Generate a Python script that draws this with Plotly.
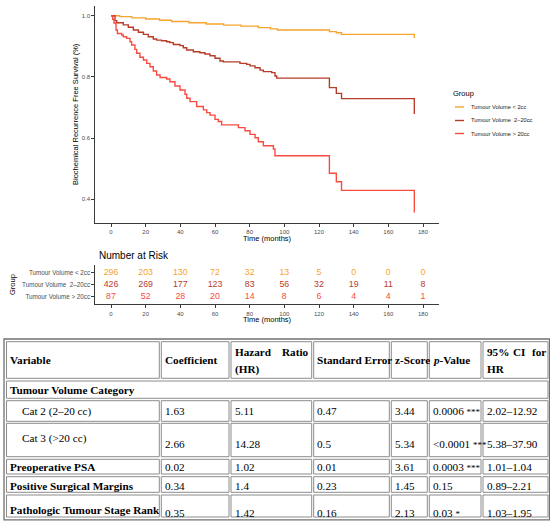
import plotly.graph_objects as go

W, H = 550, 532

# ---- Kaplan-Meier data (months, survival) ----
groups = ["Tumour Volume < 2cc", "Tumour Volume  2\u201320cc", "Tumour Volume > 20cc"]
colors = ["#F5A42C", "#B73C28", "#F94C40"]

t_small = [0, 5, 12, 20, 28, 35, 45, 55, 65, 75, 85, 92, 96, 126, 130, 133, 175]
s_small = [1.0, 0.997, 0.993, 0.989, 0.985, 0.981, 0.977, 0.973, 0.969, 0.966, 0.961,
           0.957, 0.953, 0.948, 0.944, 0.939, 0.927]

t_mid = [0, 2.3, 3.3, 7.1, 10, 12.9, 15.8, 18.7, 21.5, 24.4, 26.3, 29.2, 32.1, 34, 36,
         39.8, 41.7, 43.7, 47.5, 51.3, 54.2, 57.1, 60, 62.9, 64.8, 74.4, 78.3, 80.2,
         83.1, 86, 87.9, 92.7, 94.6, 95.6, 126, 130, 133, 175]
s_mid = [1.0, 0.984, 0.977, 0.97, 0.962, 0.953, 0.946, 0.939, 0.931, 0.924, 0.92, 0.918,
         0.915, 0.912, 0.906, 0.902, 0.895, 0.888, 0.882, 0.879, 0.875, 0.869, 0.861,
         0.852, 0.849, 0.844, 0.841, 0.836, 0.83, 0.822, 0.817, 0.814, 0.803, 0.796,
         0.765, 0.746, 0.729, 0.679]

t_large = [0, 1, 1.7, 2.9, 3.7, 6.2, 7.1, 9, 11, 11.9, 13.8, 14.8, 16.7, 18.7, 20.6,
           22.5, 24.4, 26.3, 28.3, 32.1, 34, 36.9, 39.8, 42.7, 43.7, 45.6, 49.4, 53.3,
           55.2, 57.1, 60, 61.9, 63.8, 73.5, 77.3, 80.2, 83.1, 85, 87.9, 93.7, 94.6,
           126, 130, 133, 175]
s_large = [1.0, 0.988, 0.976, 0.953, 0.942, 0.937, 0.931, 0.926, 0.915, 0.904, 0.89,
           0.877, 0.864, 0.855, 0.844, 0.833, 0.819, 0.806, 0.798, 0.793, 0.784, 0.77,
           0.757, 0.743, 0.73, 0.719, 0.703, 0.692, 0.683, 0.675, 0.661, 0.654, 0.643,
           0.634, 0.624, 0.612, 0.601, 0.588, 0.575, 0.564, 0.542, 0.485, 0.457, 0.429,
           0.357]

# ---- number at risk ----
risk_times = [0, 20, 40, 60, 80, 100, 120, 140, 160, 180]
risk_small = [296, 203, 130, 72, 32, 13, 5, 0, 0, 0]
risk_mid = [426, 269, 177, 123, 83, 56, 32, 19, 11, 8]
risk_large = [87, 52, 28, 20, 14, 8, 6, 4, 4, 1]

# ---- Cox regression table ----
headers = ["<b>Variable</b>", "<b>Coefficient</b>", None, "<b>Standard Error</b>",
           "<b>z-Score</b>", "<b><i>p</i>-Value</b>", None]
section = "<b>Tumour Volume Category</b>"
variables = ["Cat 2 (2\u201320 cc)", "Cat 3 (>20 cc)", "<b>Preoperative PSA</b>",
             "<b>Positive Surgical Margins</b>", "<b>Pathologic Tumour Stage Rank</b>"]
coef = ["1.63", "2.66", "0.02", "0.34", "0.35"]
hr = ["5.11", "14.28", "1.02", "1.4", "1.42"]
se = ["0.47", "0.5", "0.01", "0.23", "0.16"]
zscore = ["3.44", "5.34", "3.61", "1.45", "2.13"]
pval = ["0.0006", "<0.0001", "0.0003", "0.15", "0.03"]
stars = ["***", "***", "***", "", "*"]
ci = ["2.02\u201312.92", "5.38\u201337.90", "1.01\u20131.04", "0.89\u20132.21", "1.03\u20131.95"]


def px(x):
    return x / W


def py(y):
    return 1 - y / H


sans = "Liberation Sans, Arial, sans-serif"
serif = "Liberation Serif, Times New Roman, serif"
tick_col = "#4D4D4D"
axis_col = "#3A3A3A"

fig = go.Figure()

for t, s, name, c in zip([t_small, t_mid, t_large], [s_small, s_mid, s_large], groups, colors):
    fig.add_trace(go.Scatter(x=t, y=s, mode="lines", name=name,
                             line=dict(color=c, width=1.4, shape="hv"),
                             xaxis="x", yaxis="y", showlegend=False))

for risk, name, c in zip([risk_small, risk_mid, risk_large], groups, colors):
    fig.add_trace(go.Scatter(x=risk_times, y=[name] * len(risk_times), mode="text",
                             text=[str(v) for v in risk], textposition="middle center",
                             textfont=dict(family=sans, size=8.8, color=c),
                             xaxis="x2", yaxis="y2", showlegend=False))

x_dom = [px(95.4), px(438.6)]
axis_common = dict(showgrid=False, zeroline=False, showline=True, linecolor=axis_col,
                   linewidth=1, ticks="outside", ticklen=3, tickcolor=axis_col,
                   tickfont=dict(family=sans, size=6, color=tick_col))

fig.update_layout(
    width=W, height=H, autosize=False,
    margin=dict(l=0, r=0, t=0, b=0),
    paper_bgcolor="white", plot_bgcolor="white",
    xaxis=dict(domain=x_dom, range=[-9, 189], tickvals=risk_times, anchor="y", **axis_common),
    yaxis=dict(domain=[py(222.8), py(5.9)], range=[0.323, 1.032],
               tickvals=[0.4, 0.6, 0.8, 1.0], tickformat=".1f", anchor="x", **axis_common),
    xaxis2=dict(domain=x_dom, range=[-9, 189], tickvals=risk_times, anchor="y2", **axis_common),
    yaxis2=dict(domain=[py(304.3), py(265)], type="category",
                categoryorder="array", categoryarray=groups[::-1], range=[-0.6, 2.6],
                anchor="x2", **{**axis_common, "tickfont": dict(family=sans, size=6.3, color=tick_col)}),
)

ann = []
shapes = []


def text(x, y, s, size, anchor="left", family=sans, color="black", angle=0, vanchor="middle"):
    ann.append(dict(x=px(x), y=py(y), xref="paper", yref="paper", text=s, showarrow=False,
                    xanchor=anchor, yanchor=vanchor, textangle=angle,
                    font=dict(family=family, size=size, color=color)))


# chart titles
text(75, 114, "Biochemical Recurrence Free Survival (%)", 7.5, anchor="center", angle=-90)
text(267, 238, "Time (months)", 7.5, anchor="center")
text(96.5, 255.7, "Number at Risk", 10)
text(12, 285, "Group", 7.5, anchor="center", angle=-90)
text(267, 319.5, "Time (months)", 7.5, anchor="center")

# legend
text(451, 94, "Group", 7.5)
for yy, name, c in zip([107, 120.5, 133.5], groups, colors):
    shapes.append(dict(type="line", xref="paper", yref="paper", x0=px(455), x1=px(464),
                       y0=py(yy), y1=py(yy), line=dict(color=c, width=1.4)))
    text(469, yy, name, 5.7, color="#222222")

# table geometry
col_edges = [(6.5, 159.3), (161.3, 229), (231, 311.7), (313.7, 389.3), (391.3, 427.3),
             (429.3, 481), (483, 548)]
row_edges = [(341.7, 378.3), (381, 398.3), (400.7, 421.3), (423.3, 456.7), (459.3, 474),
             (476.7, 492.3), (495, 517)]
label_y = [411, 438.5, 466.7, 485.5, 510]
value_y = [411, 443.5, 466.7, 485.5, 512.5]

cell_line = dict(color="#8C8C8C", width=1)


def rect(x0, y0, x1, y1, line):
    shapes.append(dict(type="rect", xref="paper", yref="paper", x0=px(x0), x1=px(x1),
                       y0=py(y1), y1=py(y0), line=line, fillcolor="rgba(0,0,0,0)"))


rect(4, 339, 549.5, 519.8, dict(color="#707070", width=1.3))
for i, (r0, r1) in enumerate(row_edges):
    if i == 1:
        rect(col_edges[0][0], r0, col_edges[-1][1], r1, cell_line)
        continue
    for c0, c1 in col_edges:
        rect(c0, r0, c1, r1, cell_line)

fs = 11.2
hy = (row_edges[0][0] + row_edges[0][1]) / 2
for (c0, c1), h in zip(col_edges, headers):
    if h:
        text(c0 + 1.5, hy, h, fs, family=serif)
# wrapped, justified headers
c0, c1 = col_edges[2]
text(c0 + 1.5, 352, "<b>Hazard</b>", fs, family=serif)
text(c1 - 0.5, 352, "<b>Ratio</b>", fs, anchor="right", family=serif)
text(c0 + 1.5, 369.3, "<b>(HR)</b>", fs, family=serif)
c0, c1 = col_edges[6]
text(c0 + 1.5, 352, "<b>95%</b>", fs, family=serif)
text((c0 + c1) / 2 + 3, 352, "<b>CI</b>", fs, anchor="center", family=serif)
text(c1 - 0.5, 352, "<b>for</b>", fs, anchor="right", family=serif)
text(c0 + 1.5, 369.3, "<b>HR</b>", fs, family=serif)

text(col_edges[0][0] + 1.5, (row_edges[1][0] + row_edges[1][1]) / 2, section, fs, family=serif)

pv_cells = [p + (" <span style='font-size:9px'>" + st + "</span>" if st else "")
            for p, st in zip(pval, stars)]
for i, var in enumerate(variables):
    indent = 13 if i < 2 else 1.5
    text(col_edges[0][0] + indent, label_y[i], var, fs, family=serif)
    for (c0, c1), col in zip(col_edges[1:], [coef, hr, se, zscore, pv_cells, ci]):
        text(c0 + 1.5, value_y[i], col[i], fs, family=serif)

fig.update_layout(annotations=ann, shapes=shapes)
fig.write_html("out.html", config={"displayModeBar": False},
               post_script="document.body.style.margin='0';")
